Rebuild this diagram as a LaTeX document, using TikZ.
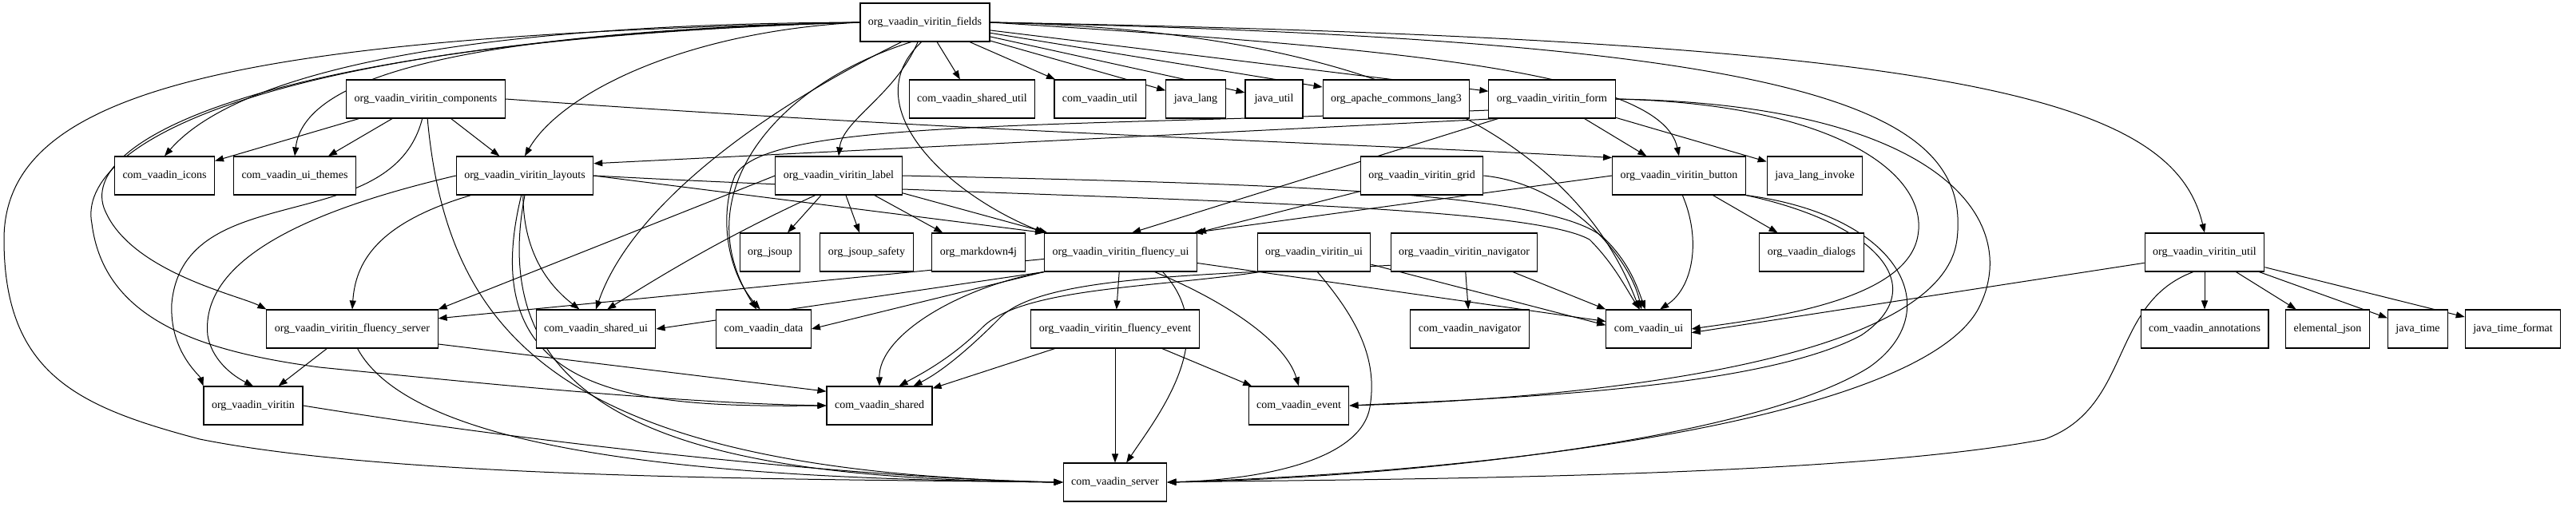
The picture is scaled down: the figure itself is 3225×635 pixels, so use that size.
\documentclass[tikz,border=0pt]{standalone}
\usepackage{fontspec}
\setmainfont{Liberation Serif}
\usetikzlibrary{arrows.meta,backgrounds}
\tikzset{
  pkgbox/.style={draw=black,line width=1.1bp,fill=white,minimum height=48bp,
    minimum width=72bp,inner xsep=10bp,inner ysep=0bp,
    font=\fontsize{14bp}{16bp}\selectfont},
  dep/.style={draw=black,line width=1bp,-{Triangle[length=11bp,width=8bp]}}
}
\newcommand{\pkgnode}[4]{
  \node[pkgbox] (#1) at (#2,{28+96*#3}) {#4};
}

\begin{document}
\begin{tikzpicture}[x=1bp,y=-1bp]
  \begin{scope}[on background layer]
    \path[use as bounding box,fill=white] (0,0) rectangle (3225,635);
  \end{scope}

  % packages, one rank per row
  \pkgnode{fields}{1158}{0}{org\_vaadin\_viritin\_fields}
  \pkgnode{components}{533}{1}{org\_vaadin\_viritin\_components}
  \pkgnode{sharedutil}{1217}{1}{com\_vaadin\_shared\_util}
  \pkgnode{cvutil}{1377}{1}{com\_vaadin\_util}
  \pkgnode{javalang}{1497}{1}{java\_lang}
  \pkgnode{javautil}{1595}{1}{java\_util}
  \pkgnode{commonslang}{1748}{1}{org\_apache\_commons\_lang3}
  \pkgnode{form}{1943}{1}{org\_vaadin\_viritin\_form}
  \pkgnode{icons}{206}{2}{com\_vaadin\_icons}
  \pkgnode{themes}{369}{2}{com\_vaadin\_ui\_themes}
  \pkgnode{layouts}{657}{2}{org\_vaadin\_viritin\_layouts}
  \pkgnode{label}{1050}{2}{org\_vaadin\_viritin\_label}
  \pkgnode{grid}{1780}{2}{org\_vaadin\_viritin\_grid}
  \pkgnode{button}{2102}{2}{org\_vaadin\_viritin\_button}
  \pkgnode{invoke}{2272}{2}{java\_lang\_invoke}
  \pkgnode{jsoup}{964}{3}{org\_jsoup}
  \pkgnode{safety}{1085}{3}{org\_jsoup\_safety}
  \pkgnode{markdown}{1225}{3}{org\_markdown4j}
  \pkgnode{fluencyui}{1403}{3}{org\_vaadin\_viritin\_fluency\_ui}
  \pkgnode{viritinui}{1645}{3}{org\_vaadin\_viritin\_ui}
  \pkgnode{navigator}{1833}{3}{org\_vaadin\_viritin\_navigator}
  \pkgnode{dialogs}{2268}{3}{org\_vaadin\_dialogs}
  \pkgnode{vutil}{2760}{3}{org\_vaadin\_viritin\_util}
  \pkgnode{fluencyserver}{441}{4}{org\_vaadin\_viritin\_fluency\_server}
  \pkgnode{sharedui}{746}{4}{com\_vaadin\_shared\_ui}
  \pkgnode{data}{956}{4}{com\_vaadin\_data}
  \pkgnode{fluencyevent}{1396}{4}{org\_vaadin\_viritin\_fluency\_event}
  \pkgnode{cnavigator}{1840}{4}{com\_vaadin\_navigator}
  \pkgnode{cvui}{2064}{4}{com\_vaadin\_ui}
  \pkgnode{annotations}{2760}{4}{com\_vaadin\_annotations}
  \pkgnode{json}{2914}{4}{elemental\_json}
  \pkgnode{javatime}{3027}{4}{java\_time}
  \pkgnode{timeformat}{3146}{4}{java\_time\_format}
  \pkgnode{viritin}{317}{5}{org\_vaadin\_viritin}
  \pkgnode{shared}{1101}{5}{com\_vaadin\_shared}
  \pkgnode{event}{1626}{5}{com\_vaadin\_event}
  \pkgnode{server}{1396}{6}{com\_vaadin\_server}

  \begin{scope}[on background layer]
  % fields
  \foreach \t in {sharedutil,cvutil,javalang,javautil,commonslang,form}
    \draw[dep] (fields) -- (\t);
  \draw[dep] (fields.-110) .. controls (1120,120) and (1055,150) .. (label.north);
  \draw[dep] (fields.west) .. controls (850,40) and (700,120) .. (layouts.north);
  \draw[dep] (fields.west) .. controls (500,30) and (280,110) .. (icons.north);
  \draw[dep] (fields.west) .. controls (560,40) and (380,100) .. (themes.north);
  \draw[dep] (fields.-100) .. controls (1070,130) and (1180,240) .. (fluencyui.north west);
  \draw[dep] (fields.east) .. controls (1750,60) and (2080,90) .. (button.north);
  \draw[dep] (fields.east) .. controls (2450,50) and (2720,120) .. (vutil.north);
  \draw[dep] (fields.west) .. controls (300,45) and (5,110) .. (5,300)
    .. controls (5,470) and (100,510) .. (250,550)
    .. controls (500,600) and (1000,600) .. (server.west);
  \draw[dep] (fields.west) .. controls (350,50) and (100,170) .. (130,260)
    .. controls (160,340) and (300,370) .. (fluencyserver.north west);
  \draw[dep] (fields.west) .. controls (330,48) and (95,180) .. (115,280)
    .. controls (130,400) and (250,440) .. (400,460)
    .. controls (600,480) and (850,505) .. (shared.west);
  \draw[dep] (fields.-125) .. controls (960,110) and (860,250) .. (data.110);
  \draw[dep] (fields.-140) .. controls (950,140) and (790,260) .. (sharedui.north);
  \draw[dep] (fields.east) .. controls (1850,40) and (2000,250) .. (cvui.115);
  \draw[dep] (fields.east) .. controls (2250,50) and (2470,130) .. (2450,300)
    .. controls (2430,460) and (1950,500) .. (event.east);
  % components
  \foreach \t in {icons,themes,layouts}
    \draw[dep] (components) -- (\t);
  \draw[dep] (components.east) .. controls (1200,165) and (1700,180) .. (button.165);
  \draw[dep] (components.-100) .. controls (490,300) and (230,220) .. (215,380)
    .. controls (212,440) and (250,470) .. (viritin.north west);
  \draw[dep] (components.-85) .. controls (560,420) and (700,590) .. (server.west);
  % layouts
  \draw[dep] (layouts.200) .. controls (470,280) and (445,330) .. (fluencyserver.north);
  \draw[dep] (layouts.west) .. controls (400,260) and (250,320) .. (260,420)
    .. controls (265,450) and (290,470) .. (viritin.north);
  \draw[dep] (layouts.-95) .. controls (655,320) and (690,360) .. (sharedui.130);
  \draw[dep] (layouts.-100) .. controls (590,500) and (800,510) .. (shared.west);
  \draw[dep] (layouts.-90) .. controls (600,540) and (900,600) .. (server.west);
  \draw[dep] (layouts.east) -- (fluencyui.north west);
  \draw[dep] (layouts.east) .. controls (1300,250) and (1900,250) .. (1990,300)
    .. controls (2020,330) and (2035,360) .. (cvui.115);
  % label
  \foreach \t in {jsoup,safety,markdown}
    \draw[dep] (label) -- (\t);
  \draw[dep] (label) -- (fluencyui.165);
  \draw[dep] (label.-140) .. controls (900,300) and (820,350) .. (sharedui.60);
  \draw[dep] (label.west) -- (fluencyserver.north east);
  \draw[dep] (label.east) .. controls (1600,230) and (1950,240) .. (2010,300)
    .. controls (2040,330) and (2050,360) .. (cvui.100);
  % form
  \draw[dep] (form.200) -- (layouts.10);
  \foreach \t in {button,invoke}
    \draw[dep] (form) -- (\t);
  \draw[dep] (form.-160) -- (fluencyui.60);
  \draw[dep] (form.190) .. controls (1300,160) and (960,150) .. (920,220)
    .. controls (900,270) and (910,340) .. (data.100);
  \draw[dep] (form.east) .. controls (2300,130) and (2420,220) .. (2400,300)
    .. controls (2380,380) and (2200,400) .. (cvui.east);
  \draw[dep] (form.east) .. controls (2420,130) and (2530,270) .. (2480,380)
    .. controls (2420,520) and (1900,590) .. (server.east);
  % grid, button
  \draw[dep] (grid) -- (fluencyui.north east);
  \draw[dep] (grid.east) .. controls (1960,230) and (2040,320) .. (cvui.110);
  \draw[dep] (button) -- (dialogs);
  \draw[dep] (button.-80) .. controls (2130,300) and (2120,360) .. (cvui.60);
  \draw[dep] (button.west) -- (fluencyui.15);
  \draw[dep] (button.south east) .. controls (2350,280) and (2420,360) .. (2330,420)
    .. controls (2200,490) and (1850,500) .. (event.east);
  \draw[dep] (button.south east) .. controls (2380,270) and (2440,390) .. (2340,460)
    .. controls (2180,560) and (1700,600) .. (server.east);
  % fluency ui
  \draw[dep] (fluencyui) -- (fluencyevent);
  \draw[dep] (fluencyui.south west) -- (sharedui.east);
  \draw[dep] (fluencyui.south west) -- (data.east);
  \draw[dep] (fluencyui.-175) -- (fluencyserver.7);
  \draw[dep] (fluencyui.south west) .. controls (1200,360) and (1100,420) .. (shared.north);
  \draw[dep] (fluencyui.-30) .. controls (1540,380) and (1610,430) .. (event.north);
  \draw[dep] (fluencyui.-25) .. controls (1530,420) and (1450,520) .. (server.60);
  \draw[dep] (fluencyui.-8) -- (cvui.170);
  % viritin ui, navigator
  \draw[dep] (viritinui.-12) -- (cvui.175);
  \draw[dep] (viritinui.-80) .. controls (1700,400) and (1725,450) .. (1715,510)
    .. controls (1705,570) and (1600,600) .. (server.east);
  \draw[dep] (viritinui.-160) .. controls (1450,360) and (1280,360) .. (1230,410)
    .. controls (1190,450) and (1150,470) .. (shared.45);
  \draw[dep] (navigator) -- (cnavigator);
  \draw[dep] (navigator) -- (cvui.north west);
  \draw[dep] (navigator.-170) .. controls (1500,345) and (1300,345) .. (1250,400)
    .. controls (1200,450) and (1170,470) .. (shared.30);
  % util
  \foreach \t in {annotations,json,javatime,timeformat}
    \draw[dep] (vutil) -- (\t);
  \draw[dep] (vutil.-170) -- (cvui.-5);
  \draw[dep] (vutil.-120) .. controls (2640,380) and (2670,510) .. (2560,550)
    .. controls (2300,600) and (1700,600) .. (server.east);
  % lower ranks
  \draw[dep] (fluencyserver) -- (viritin);
  \draw[dep] (fluencyserver.-10) -- (shared.165);
  \draw[dep] (fluencyserver.-75) .. controls (520,570) and (900,600) .. (server.west);
  \foreach \t in {shared,event,server}
    \draw[dep] (fluencyevent) -- (\t);
  \draw[dep] (viritin.east) .. controls (700,560) and (1100,600) .. (server.west);
  \end{scope}
\end{tikzpicture}
\end{document}
